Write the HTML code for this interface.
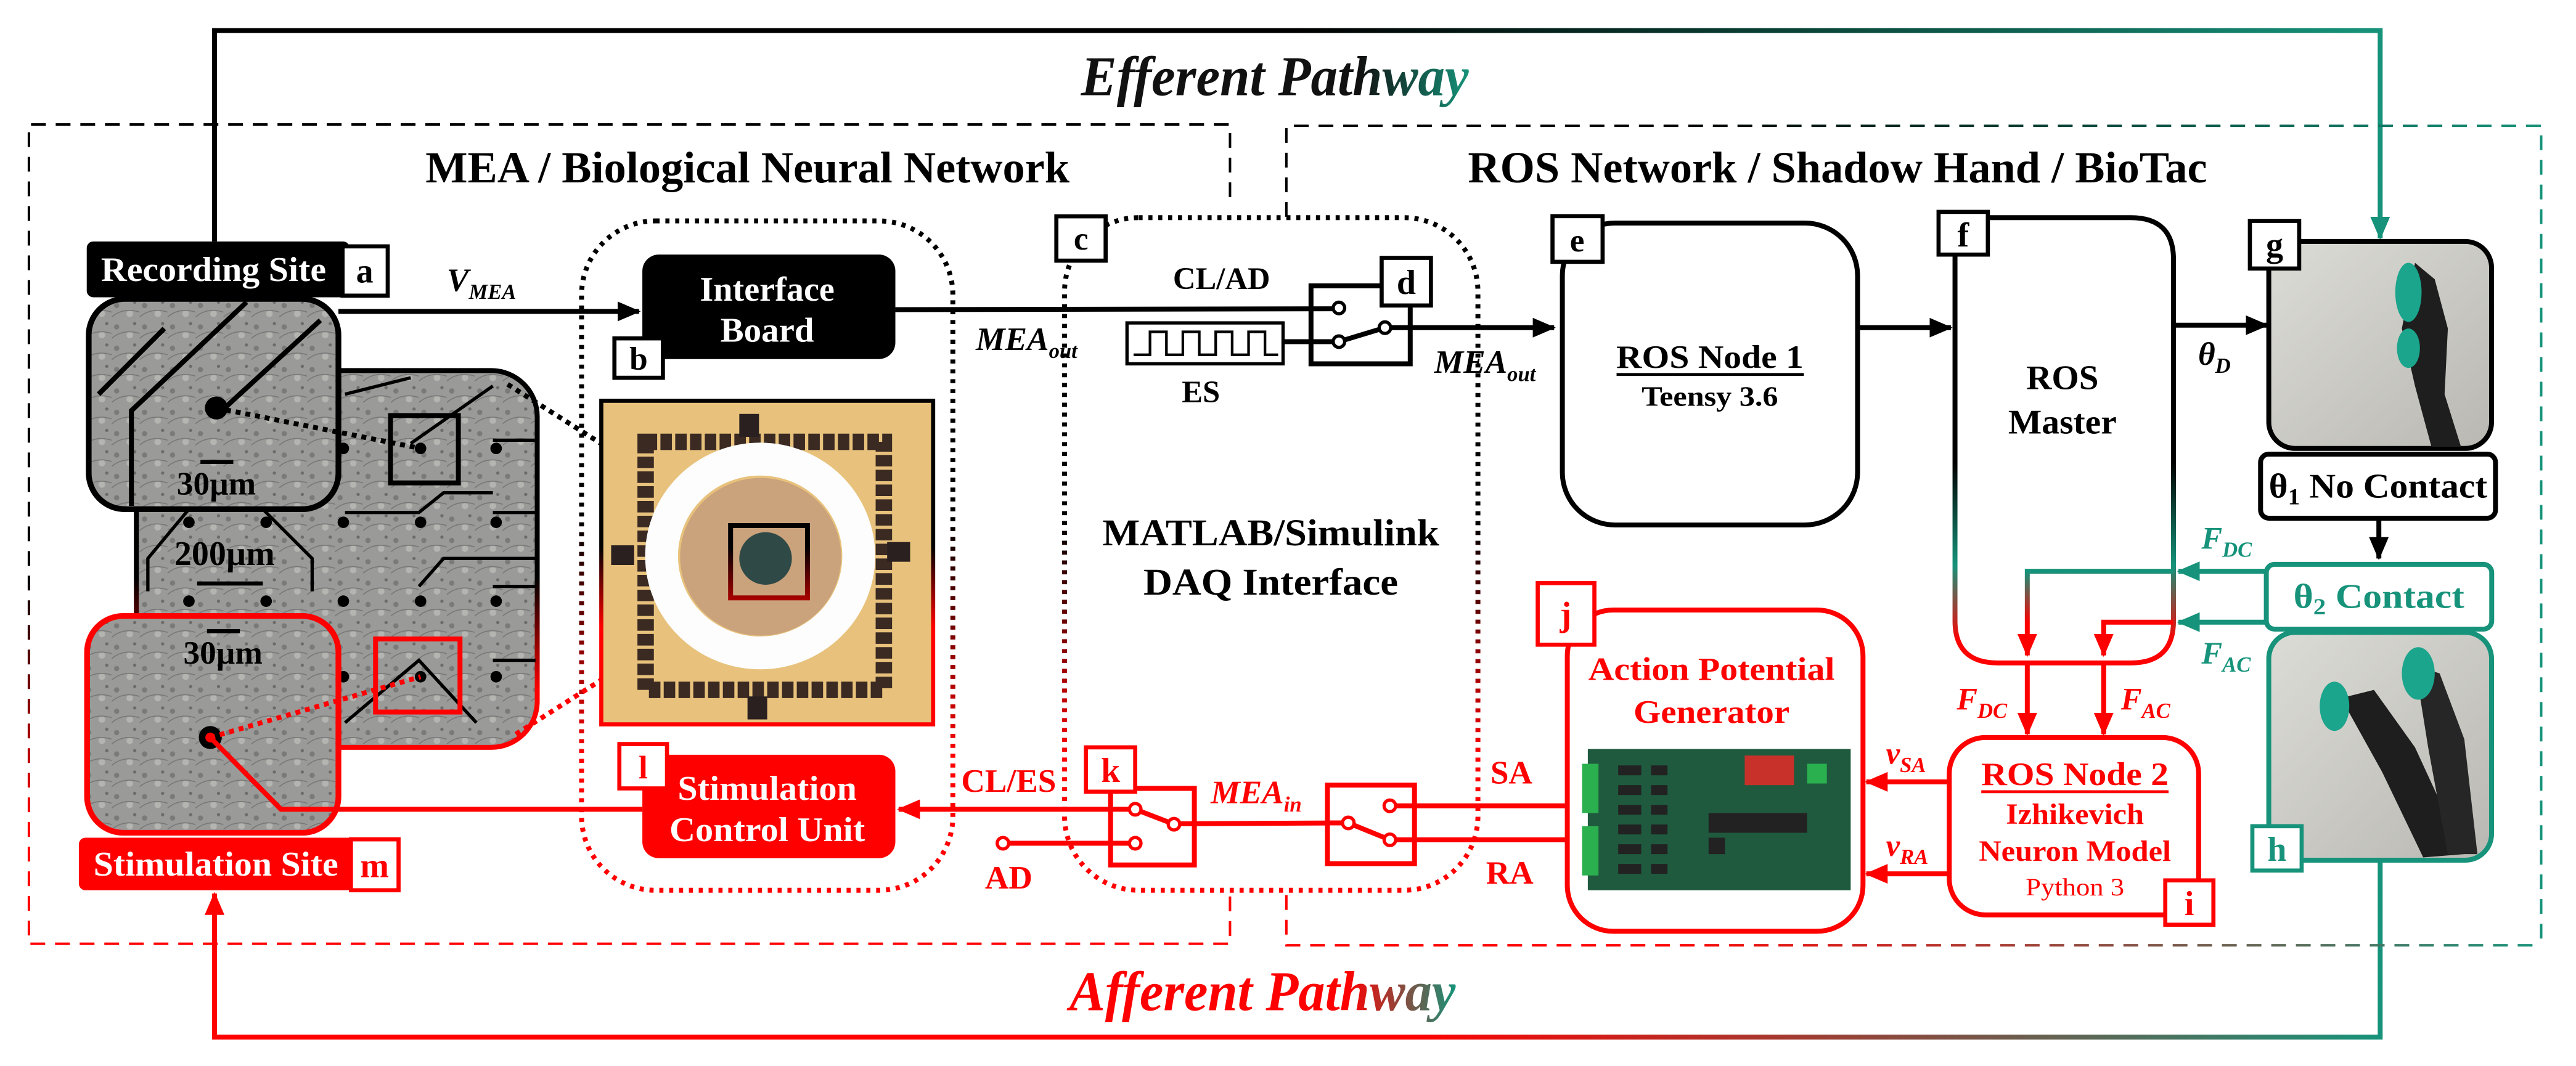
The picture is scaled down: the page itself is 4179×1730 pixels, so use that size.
<!DOCTYPE html>
<html><head><meta charset="utf-8">
<style>
html,body{margin:0;padding:0;background:#fff;}
svg{display:block;font-family:"Liberation Serif","DejaVu Serif",serif;}
svg text{font-family:"Liberation Serif","DejaVu Serif",serif;font-weight:bold;}
</style></head>
<body>
<svg width="4179" height="1730" viewBox="0 0 1568 649" preserveAspectRatio="none" xmlns="http://www.w3.org/2000/svg" font-family="Liberation Serif, DejaVu Serif, serif" font-weight="bold">
<defs>
<linearGradient id="gTop" gradientUnits="userSpaceOnUse" x1="130" y1="0" x2="1450" y2="0">
<stop offset="0.5" stop-color="#000"/><stop offset="1" stop-color="#16937a"/></linearGradient>
<linearGradient id="gBot" gradientUnits="userSpaceOnUse" x1="130" y1="0" x2="1450" y2="0">
<stop offset="0.55" stop-color="#f00"/><stop offset="1" stop-color="#16937a"/></linearGradient>
<linearGradient id="gVert" gradientUnits="userSpaceOnUse" x1="0" y1="130" x2="0" y2="545">
<stop offset="0.45" stop-color="#000"/><stop offset="0.8" stop-color="#f00"/></linearGradient>
<linearGradient id="gLeftBox" gradientUnits="userSpaceOnUse" x1="0" y1="76" x2="0" y2="575">
<stop offset="0.55" stop-color="#000"/><stop offset="0.85" stop-color="#f00"/></linearGradient>
<linearGradient id="gRightTop" gradientUnits="userSpaceOnUse" x1="783" y1="0" x2="1547" y2="0">
<stop offset="0.3" stop-color="#000"/><stop offset="1" stop-color="#16937a"/></linearGradient>
<linearGradient id="gRightBot" gradientUnits="userSpaceOnUse" x1="783" y1="0" x2="1547" y2="0">
<stop offset="0.3" stop-color="#f00"/><stop offset="1" stop-color="#16937a"/></linearGradient>
<linearGradient id="gF" gradientUnits="userSpaceOnUse" x1="0" y1="132" x2="0" y2="404">
<stop offset="0.55" stop-color="#000"/><stop offset="0.78" stop-color="#16937a"/><stop offset="0.95" stop-color="#f00"/></linearGradient>
<linearGradient id="gFin" gradientUnits="userSpaceOnUse" x1="0" y1="348" x2="0" y2="400">
<stop offset="0" stop-color="#16937a"/><stop offset="0.6" stop-color="#f00"/></linearGradient>
<linearGradient id="gBig" gradientUnits="userSpaceOnUse" x1="0" y1="226" x2="0" y2="455">
<stop offset="0.55" stop-color="#000"/><stop offset="0.85" stop-color="#f00"/></linearGradient>
<linearGradient id="gChip" gradientUnits="userSpaceOnUse" x1="0" y1="244" x2="0" y2="441">
<stop offset="0.45" stop-color="#000"/><stop offset="0.7" stop-color="#f00"/></linearGradient>
<linearGradient id="gEff" gradientUnits="userSpaceOnUse" x1="658" y1="0" x2="894" y2="0">
<stop offset="0.72" stop-color="#111"/><stop offset="1" stop-color="#16937a"/></linearGradient>
<linearGradient id="gAff" gradientUnits="userSpaceOnUse" x1="651" y1="0" x2="886" y2="0">
<stop offset="0.72" stop-color="#f00"/><stop offset="1" stop-color="#16937a"/></linearGradient>
<linearGradient id="gHand" x1="0" y1="0" x2="1" y2="1">
<stop offset="0" stop-color="#dcdcd6"/><stop offset="1" stop-color="#b9b8b2"/></linearGradient>
<marker id="aK" markerUnits="userSpaceOnUse" markerWidth="14" markerHeight="12" refX="13" refY="6" orient="auto"><path d="M0,0 L14,6 L0,12 z" fill="#000"/></marker>
<marker id="aR" markerUnits="userSpaceOnUse" markerWidth="14" markerHeight="12" refX="13" refY="6" orient="auto"><path d="M0,0 L14,6 L0,12 z" fill="#f00"/></marker>
<marker id="aT" markerUnits="userSpaceOnUse" markerWidth="14" markerHeight="12" refX="13" refY="6" orient="auto"><path d="M0,0 L14,6 L0,12 z" fill="#16937a"/></marker>
<pattern id="micro" width="17" height="13" patternUnits="userSpaceOnUse">
<rect width="17" height="13" fill="#9a9a98"/><circle cx="3" cy="4" r="1.6" fill="#7a7a7a"/><circle cx="11" cy="9" r="2" fill="#b4b4b0"/><circle cx="14" cy="2" r="1" fill="#6c6c6c"/><path d="M0,11 Q7,5 17,8" stroke="#777" fill="none" stroke-width="0.6"/></pattern>
</defs>

<polyline points="130.6,147 130.6,18.6 1448.8,18.6 1448.8,145" fill="none" stroke="url(#gTop)" stroke-width="3" marker-end="url(#aT)"/>
<polyline points="1448.8,524 1448.8,631.4 130.6,631.4 130.6,544" fill="none" stroke="url(#gBot)" stroke-width="3" marker-end="url(#aR)"/>
<text x="658" y="58" font-size="34" font-style="italic" textLength="236" lengthAdjust="spacingAndGlyphs" fill="url(#gEff)">Efferent Pathway</text>
<text x="651" y="615" font-size="34" font-style="italic" textLength="235" lengthAdjust="spacingAndGlyphs" fill="url(#gAff)">Afferent Pathway</text>

<path d="M748.7,120 L748.7,75.8 L17.6,75.8 L17.6,574.6 L748.7,574.6 L748.7,545" fill="none" stroke="url(#gLeftBox)" stroke-width="1.5" stroke-dasharray="9,6"/>
<path d="M783,132 L783,76.6 L1546.8,76.6 L1546.8,575.5" fill="none" stroke="url(#gRightTop)" stroke-width="1.5" stroke-dasharray="9,6"/>
<path d="M783,545 L783,575.5 L1546.8,575.5" fill="none" stroke="url(#gRightBot)" stroke-width="1.5" stroke-dasharray="9,6"/>
<text x="455" y="111" font-size="27" text-anchor="middle" textLength="392" lengthAdjust="spacingAndGlyphs">MEA / Biological Neural Network</text>
<text x="1118.5" y="111" font-size="27" text-anchor="middle" textLength="450" lengthAdjust="spacingAndGlyphs">ROS Network / Shadow Hand / BioTac</text>

<rect x="354" y="134.5" width="226" height="407.5" rx="45" fill="none" stroke="url(#gVert)" stroke-width="3" stroke-dasharray="2.5,3.5"/>
<rect x="648" y="132.5" width="251.6" height="409.5" rx="45" fill="none" stroke="url(#gVert)" stroke-width="3" stroke-dasharray="2.5,3.5"/>

<rect x="83" y="225.6" width="244" height="229.4" rx="28" fill="url(#micro)" stroke="url(#gBig)" stroke-width="3"/>
<g stroke="#000" stroke-width="2" fill="none">
<path d="M210,240 L250,230 M250,270 L300,235 M300,268 L326,268 M300,312 L326,312 M300,357 L326,357 M300,402 L326,402 M210,312 L255,312 L270,300 L300,300 M255,357 L270,340 L326,340 M210,440 L255,402 L290,440 M115,310 L90,340 L90,360 M160,310 L190,340 L190,360"/>
</g>
<g fill="#000">
<circle cx="115" cy="318" r="3.5"/><circle cx="162" cy="318" r="3.5"/><circle cx="209" cy="318" r="3.5"/><circle cx="256" cy="318" r="3.5"/><circle cx="302" cy="318" r="3.5"/>
<circle cx="115" cy="366" r="3.5"/><circle cx="162" cy="366" r="3.5"/><circle cx="209" cy="366" r="3.5"/><circle cx="256" cy="366" r="3.5"/><circle cx="302" cy="366" r="3.5"/>
<circle cx="209" cy="273" r="3.5"/><circle cx="256" cy="273" r="3.5"/><circle cx="302" cy="273" r="3.5"/>
<circle cx="209" cy="412" r="3.5"/><circle cx="256" cy="412" r="3.5"/><circle cx="302" cy="412" r="3.5"/>
</g>
<rect x="120" y="354" width="40" height="2.5" fill="#000"/>
<text x="136.7" y="344" font-size="21" text-anchor="middle">200µm</text>
<rect x="237.7" y="253" width="41.3" height="41" fill="none" stroke="#000" stroke-width="3"/>
<rect x="228.6" y="389" width="51.4" height="44.5" fill="none" stroke="#f00" stroke-width="3"/>

<rect x="54" y="182" width="152" height="128" rx="22" fill="url(#micro)" stroke="#000" stroke-width="3.5"/>
<path d="M150,184 L80,250 L80,308 M195,195 L135,250 L131,248 M60,240 L100,200" stroke="#000" stroke-width="3" fill="none"/>
<circle cx="131.7" cy="248.4" r="7" fill="#000"/>
<rect x="122" y="280" width="20" height="2.5" fill="#000"/>
<text x="131.7" y="301" font-size="20" text-anchor="middle">30µm</text>

<rect x="53" y="375" width="153" height="132" rx="22" fill="url(#micro)" stroke="#f00" stroke-width="3.5"/>
<rect x="126" y="383" width="20" height="2.5" fill="#000"/>
<text x="135.7" y="404" font-size="20" text-anchor="middle">30µm</text>
<circle cx="128" cy="449" r="7" fill="#000"/>
<circle cx="128" cy="449" r="3" fill="#f00"/>

<line x1="131.7" y1="248.4" x2="256" y2="273" stroke="#000" stroke-width="3" stroke-dasharray="3,3"/>
<line x1="309" y1="234" x2="444.7" y2="320" stroke="#000" stroke-width="3" stroke-dasharray="3,3"/>
<line x1="128" y1="449" x2="256" y2="412" stroke="#f00" stroke-width="3" stroke-dasharray="3,3"/>
<line x1="314" y1="447" x2="444.7" y2="364" stroke="#f00" stroke-width="3" stroke-dasharray="3,3"/>

<rect x="52.8" y="147" width="160" height="34" rx="4" fill="#000"/>
<text x="130" y="171" font-size="21" fill="#fff" text-anchor="middle" textLength="137" lengthAdjust="spacingAndGlyphs">Recording Site</text>
<rect x="208.5" y="150" width="27.5" height="30" fill="#fff" stroke="#000" stroke-width="2.5"/>
<text x="222" y="172" font-size="21" text-anchor="middle">a</text>
<rect x="48" y="510" width="168" height="32" rx="4" fill="#f00"/>
<text x="131.4" y="533" font-size="21" fill="#fff" text-anchor="middle" textLength="149" lengthAdjust="spacingAndGlyphs">Stimulation Site</text>
<rect x="213.6" y="511" width="29" height="31" fill="#fff" stroke="#f00" stroke-width="2.5"/>
<text x="228" y="534" font-size="21" fill="#f00" text-anchor="middle">m</text>

<line x1="206" y1="189.6" x2="389" y2="189.6" stroke="#000" stroke-width="3" marker-end="url(#aK)"/>
<text x="272" y="177" font-size="20" font-style="italic">V<tspan font-size="13" dy="5">MEA</tspan></text>

<rect x="391" y="155" width="154" height="63.6" rx="10" fill="#000"/>
<text x="467" y="183" font-size="21" fill="#fff" text-anchor="middle" textLength="82" lengthAdjust="spacingAndGlyphs">Interface</text>
<text x="467" y="208" font-size="21" fill="#fff" text-anchor="middle" textLength="57" lengthAdjust="spacingAndGlyphs">Board</text>
<rect x="374" y="206" width="29.5" height="24" fill="#fff" stroke="#000" stroke-width="2.5"/>
<text x="388.7" y="225" font-size="20" text-anchor="middle">b</text>

<rect x="366" y="244" width="202" height="197" fill="#e8c27c" stroke="url(#gChip)" stroke-width="2.5"/>
<rect x="393" y="269" width="145" height="151" fill="none" stroke="#3a2a22" stroke-width="10" stroke-dasharray="7,2"/>
<rect x="450" y="252" width="12" height="14" fill="#2a2020"/>
<rect x="455" y="424" width="12" height="14" fill="#2a2020"/>
<rect x="372" y="332" width="14" height="12" fill="#2a2020"/>
<rect x="540" y="330" width="14" height="12" fill="#2a2020"/>
<ellipse cx="462.7" cy="338.5" rx="60" ry="59" fill="none" stroke="#fdfdfd" stroke-width="20"/>
<ellipse cx="463" cy="339" rx="49" ry="48" fill="#caa27c"/>
<circle cx="466" cy="340" r="16" fill="#2f4a46"/>
<rect x="444.7" y="320" width="46.8" height="44" fill="none" stroke="url(#gChip)" stroke-width="3"/>

<rect x="391" y="459.5" width="154" height="63" rx="10" fill="#f00"/>
<text x="467" y="487" font-size="21" fill="#fff" text-anchor="middle" textLength="109" lengthAdjust="spacingAndGlyphs">Stimulation</text>
<text x="467" y="512" font-size="21" fill="#fff" text-anchor="middle" textLength="119" lengthAdjust="spacingAndGlyphs">Control Unit</text>
<rect x="377" y="453" width="29" height="27" fill="#fff" stroke="#f00" stroke-width="2.5"/>
<text x="391.5" y="474" font-size="20" fill="#f00" text-anchor="middle">l</text>
<polyline points="391,492.7 171,492.7 128,449" fill="none" stroke="#f00" stroke-width="3"/>

<line x1="691" y1="492.7" x2="547" y2="492.7" stroke="#f00" stroke-width="3" marker-end="url(#aR)"/>
<text x="614" y="482" font-size="20" fill="#f00" text-anchor="middle">CL/ES</text>
<circle cx="610.5" cy="513.4" r="3.5" fill="#fff" stroke="#f00" stroke-width="2"/>
<line x1="614" y1="513.4" x2="687" y2="513.4" stroke="#f00" stroke-width="3"/>
<text x="614" y="541" font-size="20" fill="#f00" text-anchor="middle">AD</text>
<rect x="676" y="480" width="51" height="46.6" fill="#fff" stroke="#f00" stroke-width="3"/>
<line x1="691" y1="492.7" x2="676" y2="492.7" stroke="#f00" stroke-width="3"/>
<line x1="676" y1="513.4" x2="687" y2="513.4" stroke="#f00" stroke-width="3"/>
<line x1="691" y1="492.7" x2="714.6" y2="501.8" stroke="#f00" stroke-width="3"/>
<circle cx="691" cy="492.7" r="3.5" fill="#fff" stroke="#f00" stroke-width="2"/>
<circle cx="691" cy="513.4" r="3.5" fill="#fff" stroke="#f00" stroke-width="2"/>
<circle cx="714.6" cy="501.8" r="3.5" fill="#fff" stroke="#f00" stroke-width="2"/>
<rect x="661" y="455" width="30" height="27" fill="#fff" stroke="#f00" stroke-width="2.5"/>
<text x="676" y="476" font-size="21" fill="#f00" text-anchor="middle">k</text>
<line x1="718" y1="501.5" x2="817" y2="501" stroke="#f00" stroke-width="3"/>
<text x="737" y="489" font-size="20" font-style="italic" fill="#f00">MEA<tspan font-size="13" dy="5">in</tspan></text>
<rect x="808" y="478" width="53" height="47.8" fill="#fff" stroke="#f00" stroke-width="3"/>
<line x1="808" y1="501" x2="817" y2="501" stroke="#f00" stroke-width="3"/>
<line x1="820.7" y1="501" x2="846" y2="511.3" stroke="#f00" stroke-width="3"/>
<circle cx="820.7" cy="501" r="3.5" fill="#fff" stroke="#f00" stroke-width="2"/>
<circle cx="846" cy="490.6" r="3.5" fill="#fff" stroke="#f00" stroke-width="2"/>
<circle cx="846" cy="511.3" r="3.5" fill="#fff" stroke="#f00" stroke-width="2"/>
<line x1="849.5" y1="490.6" x2="954" y2="490.6" stroke="#f00" stroke-width="3"/>
<line x1="849.5" y1="511.3" x2="954" y2="511.3" stroke="#f00" stroke-width="3"/>
<text x="920" y="477" font-size="20" fill="#f00" text-anchor="middle">SA</text>
<text x="919" y="538" font-size="20" fill="#f00" text-anchor="middle">RA</text>

<rect x="643" y="131.7" width="30" height="27" fill="#fff" stroke="#000" stroke-width="2.5"/>
<text x="658" y="152" font-size="20" text-anchor="middle">c</text>
<text x="773.5" y="332" font-size="23" text-anchor="middle" textLength="205" lengthAdjust="spacingAndGlyphs">MATLAB/Simulink</text>
<text x="773.5" y="362" font-size="23" text-anchor="middle" textLength="155" lengthAdjust="spacingAndGlyphs">DAQ Interface</text>

<line x1="545" y1="188.5" x2="811.5" y2="188" stroke="#000" stroke-width="3"/>
<text x="594" y="213" font-size="20" font-style="italic">MEA<tspan font-size="13" dy="5">out</tspan></text>
<text x="714" y="176" font-size="19" fill="#000">CL/AD</text>
<text x="731" y="245" font-size="19" text-anchor="middle">ES</text>
<rect x="686" y="196.6" width="95" height="24.9" fill="#fff" stroke="#000" stroke-width="2"/>
<path d="M690,216 L700,216 L700,202 L710,202 L710,216 L720,216 L720,202 L730,202 L730,216 L740,216 L740,202 L750,202 L750,216 L760,216 L760,202 L770,202 L770,216 L778,216" stroke="#000" stroke-width="1.6" fill="none"/>
<line x1="781" y1="208" x2="811.5" y2="208" stroke="#000" stroke-width="3"/>
<rect x="798" y="174" width="60.4" height="47.5" fill="none" stroke="#000" stroke-width="3"/>
<line x1="815" y1="208" x2="843" y2="199.5" stroke="#000" stroke-width="3"/>
<circle cx="815" cy="187.5" r="3.5" fill="#fff" stroke="#000" stroke-width="2"/>
<circle cx="815" cy="208" r="3.5" fill="#fff" stroke="#000" stroke-width="2"/>
<circle cx="843" cy="199.5" r="3.5" fill="#fff" stroke="#000" stroke-width="2"/>
<rect x="841" y="157" width="30" height="29" fill="#fff" stroke="#000" stroke-width="2.5"/>
<text x="856" y="179" font-size="21" text-anchor="middle">d</text>
<line x1="846.5" y1="199.5" x2="946" y2="199.5" stroke="#000" stroke-width="3" marker-end="url(#aK)"/>
<text x="873" y="227" font-size="20" font-style="italic">MEA<tspan font-size="13" dy="5">out</tspan></text>

<rect x="951" y="135.8" width="179.7" height="183.8" rx="32" fill="#fff" stroke="#000" stroke-width="3"/>
<rect x="945" y="131.6" width="30.5" height="27.8" fill="#fff" stroke="#000" stroke-width="2.5"/>
<text x="960" y="153" font-size="20" text-anchor="middle">e</text>
<text x="1040.8" y="224" font-size="20" text-anchor="middle" textLength="114" lengthAdjust="spacingAndGlyphs">ROS Node 1</text>
<line x1="984" y1="228" x2="1098" y2="228" stroke="#000" stroke-width="1.8"/>
<text x="1040.8" y="247" font-size="17" text-anchor="middle" textLength="83" lengthAdjust="spacingAndGlyphs">Teensy 3.6</text>
<line x1="1130.7" y1="199.5" x2="1187.5" y2="199.5" stroke="#000" stroke-width="3" marker-end="url(#aK)"/>

<path d="M1190,132.5 L1297,132.5 Q1323,132.5 1323,158 L1323,378 Q1323,403.6 1297,403.6 L1216,403.6 Q1190,403.6 1190,378 Z" fill="#fff" stroke="url(#gF)" stroke-width="3"/>
<rect x="1180" y="129" width="30" height="26" fill="#fff" stroke="#000" stroke-width="2.5"/>
<text x="1195" y="150" font-size="21" text-anchor="middle">f</text>
<text x="1255.4" y="237" font-size="21" text-anchor="middle" textLength="44" lengthAdjust="spacingAndGlyphs">ROS</text>
<text x="1255.4" y="264" font-size="21" text-anchor="middle" textLength="66" lengthAdjust="spacingAndGlyphs">Master</text>
<line x1="1323" y1="198" x2="1380" y2="198" stroke="#000" stroke-width="3" marker-end="url(#aK)"/>
<text x="1338" y="222" font-size="20" font-style="italic">θ<tspan font-size="13" dy="5">D</tspan></text>

<rect x="1381" y="147" width="135.6" height="126" rx="16" fill="url(#gHand)" stroke="#000" stroke-width="3"/>
<path d="M1470,160 L1482,170 L1490,200 L1488,240 L1498,272 L1480,272 L1470,235 L1462,200 Z" fill="#1e1e1e"/>
<ellipse cx="1466" cy="178" rx="8" ry="18" fill="#1aa58c"/>
<ellipse cx="1466" cy="212" rx="7" ry="12" fill="#1aa58c"/>
<rect x="1369.5" y="134.5" width="30" height="29" fill="#fff" stroke="#000" stroke-width="2.5"/>
<text x="1384.5" y="156" font-size="21" text-anchor="middle">g</text>
<rect x="1376" y="276.5" width="143" height="39" rx="5" fill="#fff" stroke="#000" stroke-width="3"/>
<text x="1447.5" y="303" font-size="21" text-anchor="middle" textLength="133" lengthAdjust="spacingAndGlyphs">θ<tspan font-size="14" dy="4">1</tspan><tspan dy="-4"> No Contact</tspan></text>
<line x1="1448" y1="315.5" x2="1448" y2="340" stroke="#000" stroke-width="3" marker-end="url(#aK)"/>

<rect x="1379.5" y="343.6" width="137.2" height="39.4" rx="5" fill="#fff" stroke="#16937a" stroke-width="3"/>
<text x="1448" y="370" font-size="21" fill="#16937a" text-anchor="middle" textLength="104" lengthAdjust="spacingAndGlyphs">θ<tspan font-size="14" dy="4">2</tspan><tspan dy="-4"> Contact</tspan></text>
<rect x="1381" y="385" width="135.6" height="138.7" rx="16" fill="url(#gHand)" stroke="#16937a" stroke-width="3"/>
<path d="M1425,425 L1445,420 L1470,455 L1500,520 L1475,522 L1450,470 Z" fill="#1e1e1e"/>
<path d="M1470,405 L1485,410 L1500,450 L1508,520 L1490,520 L1478,455 Z" fill="#262626"/>
<ellipse cx="1421" cy="430" rx="9" ry="15" fill="#1aa58c"/>
<ellipse cx="1472" cy="410" rx="10" ry="16" fill="#1aa58c"/>
<rect x="1371" y="503" width="30" height="27" fill="#fff" stroke="#16937a" stroke-width="2.5"/>
<text x="1386" y="524" font-size="21" fill="#16937a" text-anchor="middle">h</text>

<line x1="1379.5" y1="347.8" x2="1326" y2="347.8" stroke="#16937a" stroke-width="3" marker-end="url(#aT)"/>
<line x1="1379.5" y1="378.8" x2="1326" y2="378.8" stroke="#16937a" stroke-width="3" marker-end="url(#aT)"/>
<text x="1340" y="334" font-size="19" font-style="italic" fill="#16937a">F<tspan font-size="13" dy="5">DC</tspan></text>
<text x="1340" y="404" font-size="19" font-style="italic" fill="#16937a">F<tspan font-size="13" dy="5">AC</tspan></text>
<polyline points="1323,347.8 1234,347.8 1234,399" fill="none" stroke="url(#gFin)" stroke-width="3" marker-end="url(#aR)"/>
<polyline points="1323,378.8 1280.5,378.8 1280.5,399" fill="none" stroke="url(#gFin)" stroke-width="3" marker-end="url(#aR)"/>
<line x1="1234" y1="403.6" x2="1234" y2="447" stroke="#f00" stroke-width="3" marker-end="url(#aR)"/>
<line x1="1280.5" y1="403.6" x2="1280.5" y2="447" stroke="#f00" stroke-width="3" marker-end="url(#aR)"/>
<text x="1191" y="432" font-size="19" font-style="italic" fill="#f00">F<tspan font-size="13" dy="5">DC</tspan></text>
<text x="1291" y="432" font-size="19" font-style="italic" fill="#f00">F<tspan font-size="13" dy="5">AC</tspan></text>

<rect x="1186.5" y="449" width="151.8" height="108" rx="22" fill="#fff" stroke="#f00" stroke-width="3"/>
<text x="1263" y="478" font-size="20" fill="#f00" text-anchor="middle" textLength="114" lengthAdjust="spacingAndGlyphs">ROS Node 2</text>
<line x1="1206" y1="482" x2="1320" y2="482" stroke="#f00" stroke-width="1.8"/>
<text x="1263" y="501.5" font-size="18" fill="#f00" text-anchor="middle" textLength="84" lengthAdjust="spacingAndGlyphs">Izhikevich</text>
<text x="1263" y="524" font-size="18" fill="#f00" text-anchor="middle" textLength="117" lengthAdjust="spacingAndGlyphs">Neuron Model</text>
<text x="1263" y="545" font-size="15" font-weight="normal" fill="#f00" text-anchor="middle" textLength="60" lengthAdjust="spacingAndGlyphs" style="font-weight:normal">Python 3</text>
<rect x="1318" y="536" width="29.3" height="27" fill="#fff" stroke="#f00" stroke-width="2.5"/>
<text x="1332.6" y="557" font-size="21" fill="#f00" text-anchor="middle">i</text>
<line x1="1186.5" y1="476" x2="1136" y2="476" stroke="#f00" stroke-width="3" marker-end="url(#aR)"/>
<line x1="1186.5" y1="532" x2="1136" y2="532" stroke="#f00" stroke-width="3" marker-end="url(#aR)"/>
<text x="1148" y="465" font-size="19" font-style="italic" fill="#f00">v<tspan font-size="13" dy="5">SA</tspan></text>
<text x="1148" y="521" font-size="19" font-style="italic" fill="#f00">v<tspan font-size="13" dy="5">RA</tspan></text>

<rect x="954" y="371.4" width="180" height="195.6" rx="28" fill="#fff" stroke="#f00" stroke-width="3"/>
<rect x="936" y="355" width="34.5" height="37.5" fill="#fff" stroke="#f00" stroke-width="2.5"/>
<text x="953" y="381" font-size="21" fill="#f00" text-anchor="middle">j</text>
<text x="1041.8" y="414" font-size="20" fill="#f00" text-anchor="middle" textLength="150" lengthAdjust="spacingAndGlyphs">Action Potential</text>
<text x="1041.8" y="440" font-size="20" fill="#f00" text-anchor="middle" textLength="95" lengthAdjust="spacingAndGlyphs">Generator</text>
<rect x="966.5" y="456" width="160" height="86" fill="#1f5a3e"/>
<rect x="963" y="465" width="10" height="30" fill="#2bb04f"/>
<rect x="963" y="503" width="10" height="30" fill="#2bb04f"/>
<g fill="#222"><rect x="985" y="466" width="14" height="6"/><rect x="985" y="478" width="14" height="6"/><rect x="985" y="490" width="14" height="6"/><rect x="985" y="502" width="14" height="6"/><rect x="985" y="514" width="14" height="6"/><rect x="985" y="526" width="14" height="6"/>
<rect x="1005" y="466" width="10" height="6"/><rect x="1005" y="478" width="10" height="6"/><rect x="1005" y="490" width="10" height="6"/><rect x="1005" y="502" width="10" height="6"/><rect x="1005" y="514" width="10" height="6"/><rect x="1005" y="526" width="10" height="6"/>
<rect x="1040" y="495" width="60" height="12"/><rect x="1040" y="510" width="10" height="10"/></g>
<rect x="1062" y="460" width="30" height="18" fill="#c7312a"/>
<rect x="1100" y="465" width="12" height="12" fill="#2bb04f"/>
</svg>
</body></html>
